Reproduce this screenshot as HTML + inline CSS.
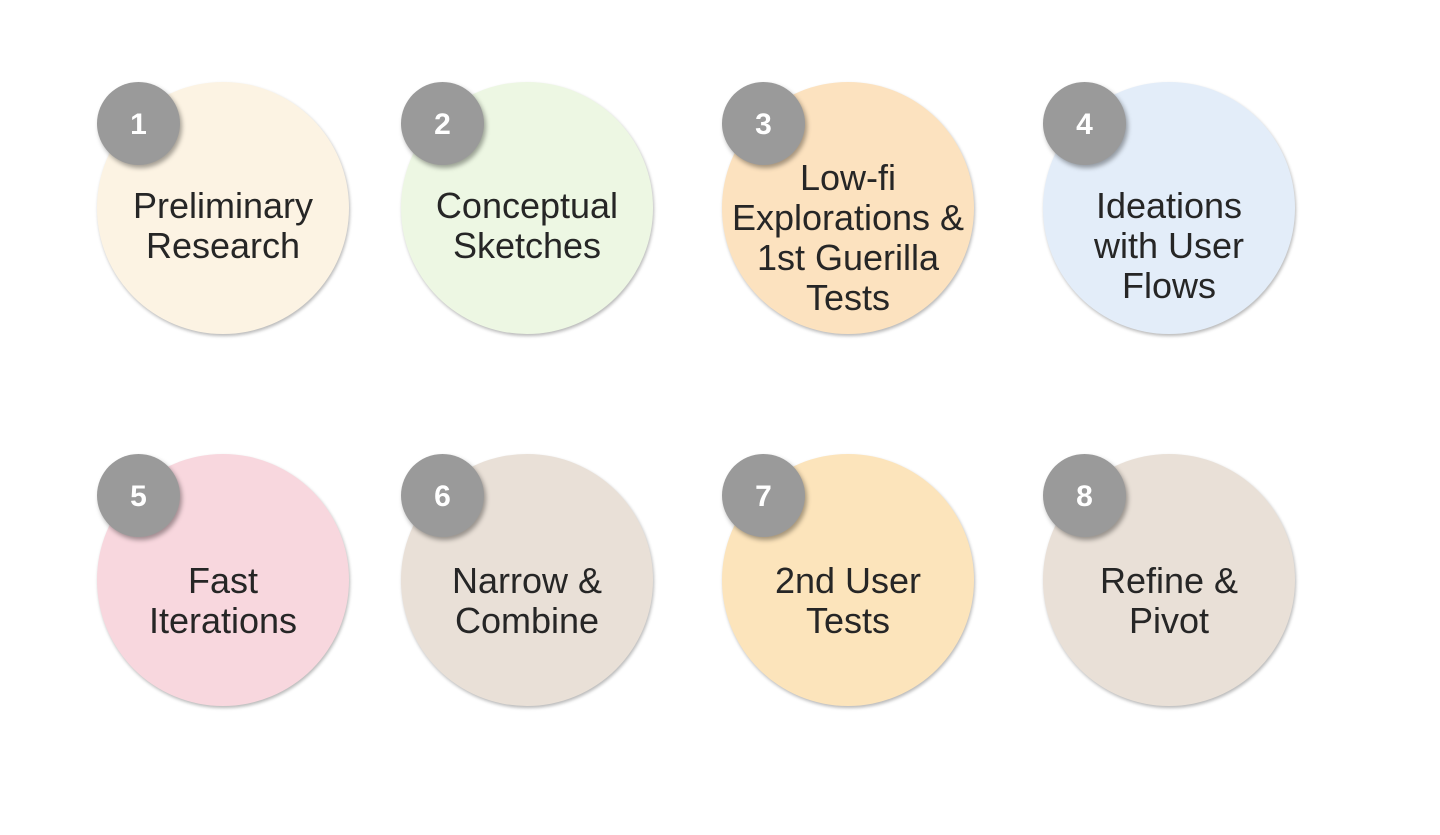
<!DOCTYPE html>
<html>
<head>
<meta charset="utf-8">
<style>
  html, body { margin:0; padding:0; }
  body { width:1440px; height:835px; background:#ffffff; position:relative; overflow:hidden;
         font-family:"Liberation Sans", Arial, sans-serif; }
  .c { position:absolute; width:252px; height:252px; border-radius:50%;
       box-shadow: 1px 2px 3px rgba(0,0,0,0.28); }
  .b { position:absolute; width:83px; height:83px; border-radius:50%; background:#9a9a9a;
       box-shadow: 2px 3px 5px rgba(0,0,0,0.35); color:#fff; font-weight:bold; font-size:30px;
       line-height:86px; text-align:center; }
  .t { position:absolute; width:320px; text-align:center; font-size:36px; line-height:40px;
       color:#262626; white-space:nowrap; }
</style>
</head>
<body>
  <!-- Row 1 -->
  <div class="c" style="left:97px; top:82px; background:#fcf3e3;"></div>
  <div class="c" style="left:401px; top:82px; background:#edf7e3;"></div>
  <div class="c" style="left:722px; top:82px; background:#fce2bf;"></div>
  <div class="c" style="left:1043px; top:82px; background:#e3edf9;"></div>

  <!-- Row 2 -->
  <div class="c" style="left:97px; top:454px; background:#f8d7de;"></div>
  <div class="c" style="left:401px; top:454px; background:#e9e0d7;"></div>
  <div class="c" style="left:722px; top:454px; background:#fce4bb;"></div>
  <div class="c" style="left:1043px; top:454px; background:#e9e0d7;"></div>

  <!-- Text row 1 -->
  <div class="t" style="left:63px; top:186px;">Preliminary<br>Research</div>
  <div class="t" style="left:367px; top:186px;">Conceptual<br>Sketches</div>
  <div class="t" style="left:688px; top:158px;">Low-fi<br>Explorations &amp;<br>1st Guerilla<br>Tests</div>
  <div class="t" style="left:1009px; top:186px;">Ideations<br>with User<br>Flows</div>

  <!-- Text row 2 -->
  <div class="t" style="left:63px; top:561px;">Fast<br>Iterations</div>
  <div class="t" style="left:367px; top:561px;">Narrow &amp;<br>Combine</div>
  <div class="t" style="left:688px; top:561px;">2nd User<br>Tests</div>
  <div class="t" style="left:1009px; top:561px;">Refine &amp;<br>Pivot</div>

  <!-- Badges -->
  <div class="b" style="left:97px; top:82px;">1</div>
  <div class="b" style="left:401px; top:82px;">2</div>
  <div class="b" style="left:722px; top:82px;">3</div>
  <div class="b" style="left:1043px; top:82px;">4</div>
  <div class="b" style="left:97px; top:454px;">5</div>
  <div class="b" style="left:401px; top:454px;">6</div>
  <div class="b" style="left:722px; top:454px;">7</div>
  <div class="b" style="left:1043px; top:454px;">8</div>
</body>
</html>
